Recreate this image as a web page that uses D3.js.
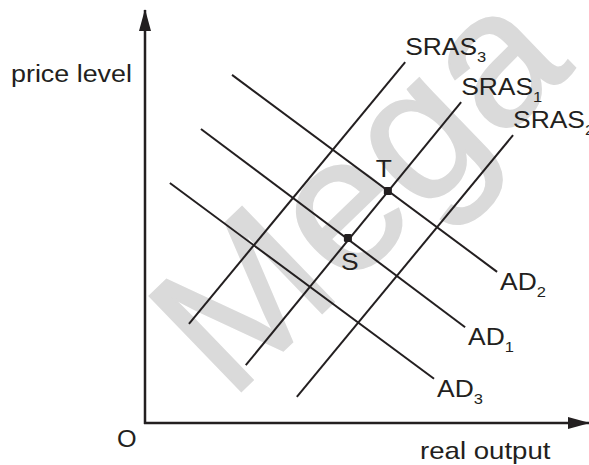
<!DOCTYPE html>
<html>
<head>
<meta charset="utf-8">
<script src="https://cdn.jsdelivr.net/npm/d3@7"></script>
<style>
  html, body { margin: 0; padding: 0; background: #fff; }
  svg { display: block; }
  text { font-family: "Liberation Sans", Arial, Helvetica, sans-serif; }
</style>
</head>
<body>
<svg id="chart" width="589" height="465"></svg>
<script>
// ---- data (in chart units: real output 0..100, price level 0..100) ----
const adNames = ["AD2", "AD1", "AD3"];
const adSub = ["2", "1", "3"];
const adStart = [[19.6, 84.3], [12.6, 71.2], [5.6, 58.1]];
const adEnd = [[79.3, 36.6], [72.1, 23.2], [65.1, 10.7]];

const srasNames = ["SRAS3", "SRAS1", "SRAS2"];
const srasSub = ["3", "1", "2"];
const srasStart = [[9.9, 24.0], [22.7, 14.0], [34.2, 6.3]];
const srasEnd = [[58.6, 87.4], [71.2, 77.7], [82.9, 69.7]];

const pointNames = ["T", "S"];
const pointXY = [[54.7, 56.2], [45.7, 44.8]];

const axisTitles = ["price level", "real output", "O"];
const watermark = "Mega";

// ---- layout ----
const W = 589, H = 465;
const x = d3.scaleLinear().domain([0, 100]).range([145, 589]);
const y = d3.scaleLinear().domain([0, 100]).range([423, 10]);
const ink = "#231f20";

const svg = d3.select("#chart");

// watermark
svg.append("text")
  .attr("transform", "translate(230,402) rotate(-44)")
  .attr("font-size", 192)
  .attr("fill", "#dadada")
  .attr("stroke", "#dadada")
  .attr("stroke-width", 2)
  .text(watermark);

// arrow markers
const defs = svg.append("defs");
defs.append("marker")
  .attr("id", "arrow")
  .attr("viewBox", "0 0 22 12")
  .attr("refX", 21).attr("refY", 6)
  .attr("markerWidth", 22).attr("markerHeight", 12)
  .attr("markerUnits", "userSpaceOnUse")
  .attr("orient", "auto")
  .append("path")
  .attr("d", "M0,0 L22,6 L0,12 Z")
  .attr("fill", ink);

// axes
svg.append("line")
  .attr("x1", x(0)).attr("y1", y(0) + 1)
  .attr("x2", x(0)).attr("y2", y(100))
  .attr("stroke", ink).attr("stroke-width", 2.5)
  .attr("marker-end", "url(#arrow)");
svg.append("line")
  .attr("x1", x(0) - 1).attr("y1", y(0))
  .attr("x2", x(100)).attr("y2", y(0))
  .attr("stroke", ink).attr("stroke-width", 2.5)
  .attr("marker-end", "url(#arrow)");

// AD and SRAS lines
const line = d3.line().x(d => x(d[0])).y(d => y(d[1]));
const adData = adNames.map((n, i) => ({ name: n, sub: adSub[i], pts: [adStart[i], adEnd[i]] }));
const srasData = srasNames.map((n, i) => ({ name: n, sub: srasSub[i], pts: [srasStart[i], srasEnd[i]] }));

svg.selectAll("path.ad").data(adData).join("path")
  .attr("class", "ad")
  .attr("d", d => line(d.pts))
  .attr("fill", "none").attr("stroke", ink).attr("stroke-width", 2);
svg.selectAll("path.sras").data(srasData).join("path")
  .attr("class", "sras")
  .attr("d", d => line(d.pts))
  .attr("fill", "none").attr("stroke", ink).attr("stroke-width", 2);

// labels with subscripts
function label(sel, px, py, base, sub) {
  const t = sel.append("text")
    .attr("transform", `translate(${px},${py}) scale(1.1,1)`)
    .attr("fill", ink)
    .attr("font-size", 24);
  t.append("tspan").text(base);
  t.append("tspan").attr("font-size", 15).attr("dy", 7).text(sub);
}
adData.forEach(d => label(svg, x(d.pts[1][0]) + 3, y(d.pts[1][1]) + 18, d.name.replace(/\d$/, ""), d.sub));
srasData.forEach(d => label(svg, x(d.pts[1][0]), y(d.pts[1][1]) - 7, d.name.replace(/\d$/, ""), d.sub));

// equilibrium points
const pts = pointNames.map((n, i) => ({ name: n, xy: pointXY[i] }));
svg.selectAll("rect.pt").data(pts).join("rect")
  .attr("class", "pt")
  .attr("x", d => x(d.xy[0]) - 4).attr("y", d => y(d.xy[1]) - 4)
  .attr("width", 8).attr("height", 8).attr("rx", 1.5)
  .attr("fill", ink);
const ptOff = { T: [-4, -14], S: [2, 32] };
svg.selectAll("text.ptl").data(pts).join("text")
  .attr("class", "ptl")
  .attr("transform", d => `translate(${x(d.xy[0]) + ptOff[d.name][0]},${y(d.xy[1]) + ptOff[d.name][1]}) scale(1.1,1)`)
  .attr("text-anchor", "middle")
  .attr("font-size", 24)
  .attr("fill", ink)
  .text(d => d.name);

// axis titles
svg.append("text")
  .attr("transform", "translate(11,82) scale(1.12,1)")
  .attr("font-size", 24).attr("fill", ink).text(axisTitles[0]);
svg.append("text")
  .attr("transform", "translate(420,459) scale(1.15,1)")
  .attr("font-size", 24).attr("fill", ink).text(axisTitles[1]);
svg.append("text")
  .attr("transform", "translate(117,447) scale(1.05,1)")
  .attr("font-size", 24).attr("fill", ink).text(axisTitles[2]);
</script>
</body>
</html>
